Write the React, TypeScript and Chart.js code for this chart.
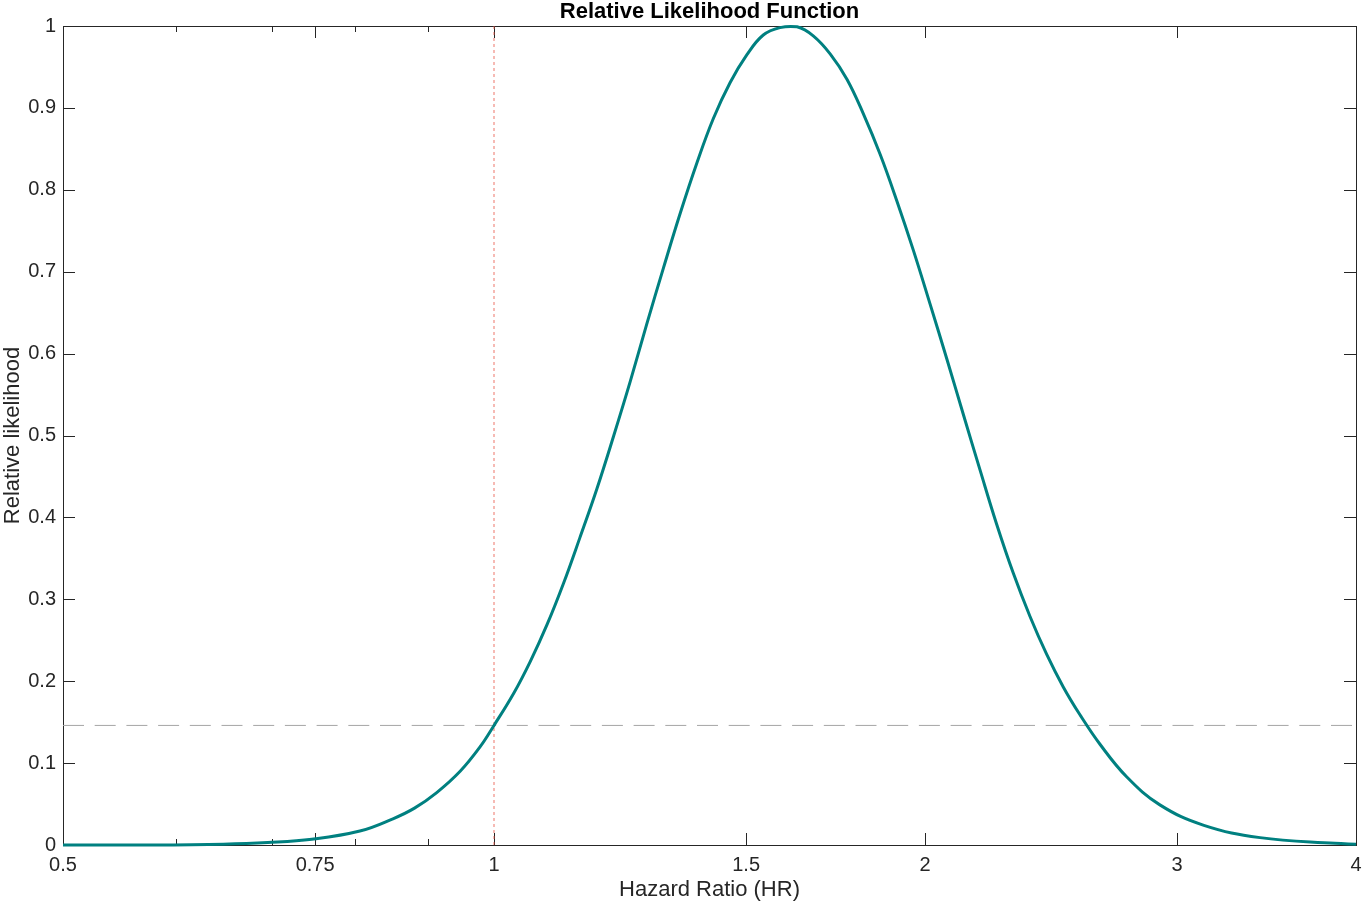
import { useEffect, useRef } from 'react';
import Chart from 'chart.js/auto';

// values
const hazardRatio = [
  0.5, 0.575, 0.647, 0.695, 0.746, 0.806, 0.85, 0.88, 0.912, 0.947, 0.978, 1.0,
  1.032, 1.06, 1.089, 1.118, 1.148, 1.18, 1.212, 1.245, 1.278, 1.313, 1.349, 1.386,
  1.423, 1.462, 1.502, 1.542, 1.584, 1.628, 1.671, 1.717, 1.764, 1.811, 1.861, 1.911,
  1.963, 2.016, 2.071, 2.127, 2.185, 2.244, 2.305, 2.368, 2.432, 2.498, 2.566, 2.65,
  2.767, 2.918, 3.132, 3.428, 3.867, 4.0,
];
const relLikelihood = [
  0.0, 0.0, 0.001, 0.003, 0.007, 0.017, 0.032, 0.045, 0.064, 0.09, 0.12, 0.146,
  0.185, 0.224, 0.269, 0.319, 0.375, 0.435, 0.499, 0.566, 0.635, 0.704, 0.771, 0.833,
  0.887, 0.931, 0.965, 0.989, 0.998, 0.999, 0.988, 0.966, 0.935, 0.893, 0.843, 0.787,
  0.726, 0.661, 0.594, 0.526, 0.458, 0.392, 0.332, 0.279, 0.233, 0.193, 0.159, 0.123,
  0.083, 0.049, 0.024, 0.009, 0.002, 0.001,
];

const nullHR = [1, 1];
const nullLevel = [0, 1];
const cutoffHR = [0.5, 4];
const cutoffLevel = [0.146, 0.146];

const xTickValues = [0.5, 0.75, 1, 1.5, 2, 3, 4];
const xMinorTicks = [0.6, 0.7, 0.8, 0.9];
const yTickValues = [0, 0.1, 0.2, 0.3, 0.4, 0.5, 0.6, 0.7, 0.8, 0.9, 1];

const chartTitle = 'Relative Likelihood Function';
const FONT = "'Liberation Sans', Arial, Helvetica, sans-serif";
const AXIS = '#262626';

// matlab-style box with inward ticks on all four sides, title centred over the axes
const boxTicks = {
  id: 'boxTicks',
  beforeDatasetsDraw(chart: any) {
    const { ctx, chartArea, scales } = chart;
    const { left, right, top, bottom } = chartArea;
    const x = scales.x;
    const y = scales.y;
    ctx.save();
    ctx.strokeStyle = AXIS;
    ctx.lineWidth = 1;
    ctx.beginPath();
    const vTick = (v: number, len: number) => {
      const px = Math.round(x.getPixelForValue(v)) + 0.5;
      ctx.moveTo(px, bottom);
      ctx.lineTo(px, bottom - len);
      ctx.moveTo(px, top);
      ctx.lineTo(px, top + len);
    };
    xTickValues.forEach((v) => vTick(v, 12));
    xMinorTicks.forEach((v) => vTick(v, 6));
    yTickValues.forEach((v) => {
      const py = Math.round(y.getPixelForValue(v)) + 0.5;
      ctx.moveTo(left, py);
      ctx.lineTo(left + 12, py);
      ctx.moveTo(right, py);
      ctx.lineTo(right - 12, py);
    });
    ctx.stroke();
    ctx.strokeRect(Math.round(left) + 0.5, Math.round(top) + 0.5, Math.round(right - left), Math.round(bottom - top));

    ctx.fillStyle = '#000';
    ctx.font = `bold 22px ${FONT}`;
    ctx.textAlign = 'center';
    ctx.textBaseline = 'middle';
    ctx.fillText(chartTitle, (left + right) / 2, 12);
    ctx.restore();
  },
};

const LikelihoodChart = () => {
  const canvasRef = useRef<HTMLCanvasElement>(null);

  useEffect(() => {
    if (!canvasRef.current) return;
    const chart = new Chart(canvasRef.current, {
      type: 'line',
      data: {
        datasets: [
          {
            label: 'Relative likelihood',
            data: hazardRatio.map((hr, i) => ({ x: hr, y: relLikelihood[i] })),
            borderColor: '#008080',
            borderWidth: 3,
            pointRadius: 0,
            tension: 0.4,
            clip: false,
            order: 0,
          },
          {
            label: 'HR = 1',
            data: nullHR.map((hr, i) => ({ x: hr, y: nullLevel[i] })),
            borderColor: 'rgba(232, 84, 68, 0.8)',
            borderWidth: 1,
            borderDash: [3, 3],
            pointRadius: 0,
            order: 1,
          },
          {
            label: 'cut-off',
            data: cutoffHR.map((hr, i) => ({ x: hr, y: cutoffLevel[i] })),
            borderColor: '#a6a6a6',
            borderWidth: 1,
            borderDash: [21, 10.7],
            pointRadius: 0,
            order: 2,
          },
        ],
      },
      options: {
        animation: false,
        responsive: true,
        maintainAspectRatio: false,
        layout: { padding: { left: 0, right: 8, top: 26, bottom: 0 } },
        plugins: {
          legend: { display: false },
          tooltip: { enabled: false },
          title: { display: false },
        },
        scales: {
          x: {
            type: 'logarithmic',
            min: 0.5,
            max: 4,
            afterBuildTicks: (scale: any) => {
              scale.ticks = xTickValues.map((v) => ({ value: v }));
            },
            afterFit: (scale: any) => {
              scale.height = 60;
              scale.paddingLeft = 0;
              scale.paddingRight = 0;
            },
            ticks: {
              autoSkip: false,
              maxRotation: 0,
              padding: 8,
              color: AXIS,
              font: { family: FONT, size: 20 },
              callback: (v: any) => String(v),
            },
            grid: { display: false, drawTicks: false },
            border: { display: false },
            title: {
              display: true,
              text: 'Hazard Ratio (HR)',
              color: AXIS,
              font: { family: FONT, size: 22, lineHeight: 1.2 },
              padding: { top: 0, bottom: 2 },
            },
          },
          y: {
            type: 'linear',
            min: 0,
            max: 1,
            afterBuildTicks: (scale: any) => {
              scale.ticks = yTickValues.map((v) => ({ value: v }));
            },
            afterFit: (scale: any) => {
              scale.width = 63;
              scale.paddingTop = 0;
              scale.paddingBottom = 0;
            },
            ticks: {
              padding: 7,
              color: AXIS,
              font: { family: FONT, size: 20 },
              callback: (v: any) => String(Number(Number(v).toFixed(1))),
            },
            grid: { display: false, drawTicks: false },
            border: { display: false },
            title: {
              display: true,
              text: 'Relative likelihood',
              color: AXIS,
              font: { family: FONT, size: 22, lineHeight: 1.2 },
              padding: { top: 0, bottom: 0 },
            },
          },
        },
      },
      plugins: [boxTicks],
    });
    return () => chart.destroy();
  }, []);

  return <canvas ref={canvasRef} />;
};

export default function App() {
  return (
    <div style={{ position: 'fixed', left: 0, top: 0, width: 1364, height: 905, background: '#fff' }}>
      <LikelihoodChart />
    </div>
  );
}
